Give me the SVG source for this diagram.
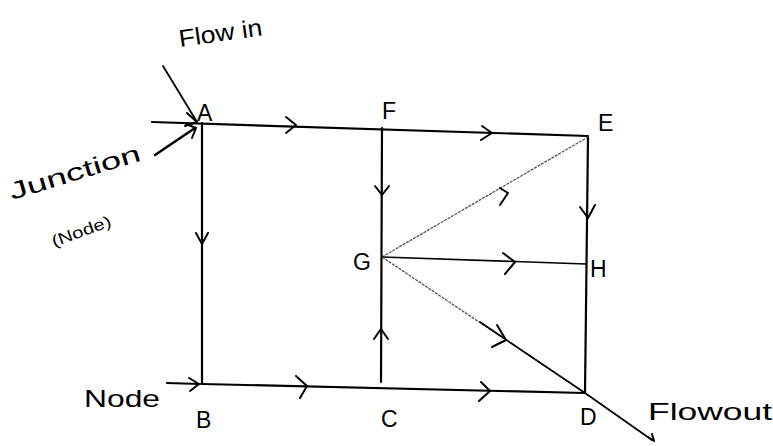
<svg xmlns="http://www.w3.org/2000/svg" width="773" height="446" viewBox="0 0 773 446">
<style>
.w{stroke:#000;stroke-width:2.2;fill:none;stroke-linecap:round}
.d{stroke:#555;stroke-width:1.3;fill:none;stroke-dasharray:3 1}
.c{stroke:#000;stroke-width:2;fill:none;stroke-linecap:round;stroke-linejoin:round}
text{font-family:"Liberation Sans",Arial,sans-serif;fill:#000}
.lb{font-size:23px}
.nt{font-size:24px}
</style>
<rect width="773" height="446" fill="#fff"/>
<g id="connectors">
<line class="w" x1="152" y1="122" x2="588" y2="136"/>
<line class="w" x1="202" y1="123" x2="202" y2="384"/>
<line class="w" x1="202" y1="384" x2="585" y2="393"/>
<line class="w" x1="382" y1="128" x2="381" y2="382"/>
<line class="w" x1="588" y1="137" x2="585" y2="393"/>
<line class="d" x1="382" y1="257" x2="588" y2="137"/>
<line class="w" x1="382" y1="257" x2="586" y2="264" style="stroke-width:1.6"/>
<line class="d" x1="382" y1="257" x2="585" y2="393"/>
<line class="w" x1="480" y1="322" x2="585" y2="393" style="stroke-width:1.6"/>
<line class="w" x1="585" y1="393" x2="652" y2="440" style="stroke-width:1.8"/>
<line class="w" x1="163" y1="66" x2="197" y2="122" style="stroke-width:1.8"/>
<line class="w" x1="155" y1="155" x2="195" y2="128" style="stroke-width:2.5"/>
<line class="w" x1="167" y1="383" x2="200" y2="384"/>
<polyline class="c" points="187,113 197,122 185,126"/>
<polyline class="c" points="186,124 196,128 192,138"/>
<polyline class="c" points="189,378 199,384 190,391"/>
<polyline class="c" points="286,117 296,125 286,133"/>
<polyline class="c" points="482,126 492,133 481,140"/>
<polyline class="c" points="196,233 202,244 208,233"/>
<polyline class="c" points="375,186 382,195 389,186"/>
<polyline class="c" points="374,339 381,329 388,339"/>
<polyline class="c" points="580,207 588,218 595,205"/>
<polyline class="c" points="296,376 307,386 300,398"/>
<polyline class="c" points="481,382 490,391 479,401"/>
<polyline class="c" points="500,188 508,193 500,205"/>
<polyline class="c" points="503,253 515,262 505,274"/>
<polyline class="c" points="497,325 506,340 492,347"/>
<polyline class="c" points="648,437 654,441 652,434"/>
</g>
<g id="node-A"><text class="lb" x="197" y="121">A</text></g>
<g id="node-F"><text class="lb" x="382" y="119">F</text></g>
<g id="node-E"><text class="lb" x="598" y="131">E</text></g>
<g id="node-G"><text class="lb" x="353" y="270">G</text></g>
<g id="node-H"><text class="lb" x="590" y="277">H</text></g>
<g id="node-B"><text class="lb" x="196" y="428">B</text></g>
<g id="node-C"><text class="lb" x="381" y="427">C</text></g>
<g id="node-D"><text class="lb" x="580" y="425">D</text></g>
<g id="labels">
<text class="nt" x="180" y="47" textLength="84" lengthAdjust="spacingAndGlyphs" transform="rotate(-8 180 47)">Flow in</text>
<text class="nt" x="12" y="200" textLength="136" lengthAdjust="spacingAndGlyphs" transform="rotate(-17 12 200)">Junction</text>
<text style="font-size:16px" x="54" y="247" textLength="62" lengthAdjust="spacingAndGlyphs" transform="rotate(-20 54 247)">(Node)</text>
<text class="nt" x="84" y="407" textLength="76" lengthAdjust="spacingAndGlyphs">Node</text>
<text class="nt" x="648" y="420" textLength="124" lengthAdjust="spacingAndGlyphs">Flowout</text>
</g>
</svg>
